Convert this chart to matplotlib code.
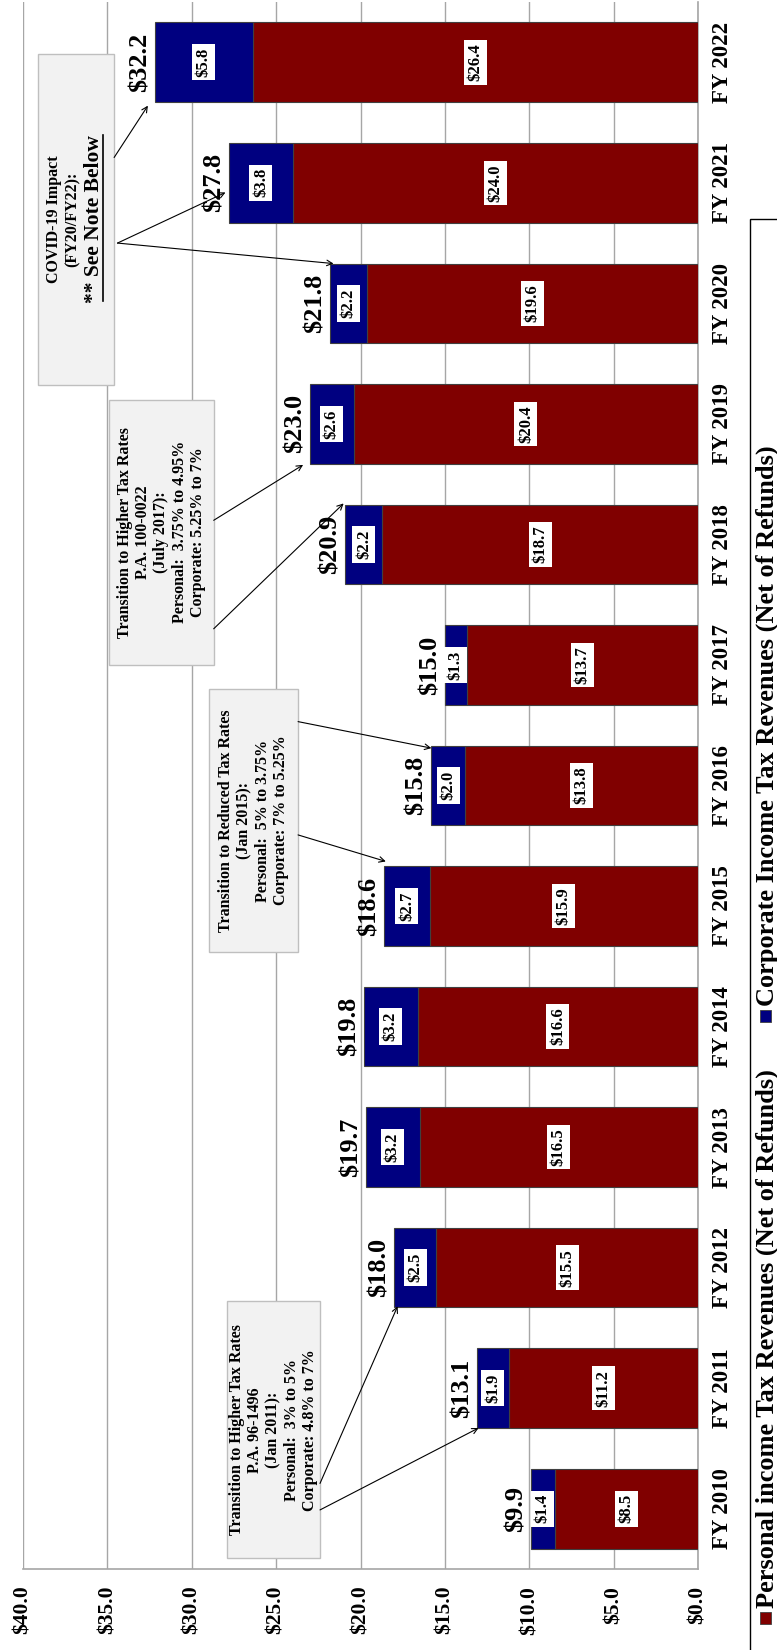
import matplotlib
matplotlib.use("Agg")
import matplotlib.pyplot as plt
from matplotlib.patches import Rectangle

# Datos (miles de millones de $)
anios = ["FY 2010", "FY 2011", "FY 2012", "FY 2013", "FY 2014", "FY 2015", "FY 2016",
         "FY 2017", "FY 2018", "FY 2019", "FY 2020", "FY 2021", "FY 2022"]
personal = [8.5, 11.2, 15.5, 16.5, 16.6, 15.9, 13.8, 13.7, 18.7, 20.4, 19.6, 24.0, 26.4]
corporativo = [1.4, 1.9, 2.5, 3.2, 3.2, 2.7, 2.0, 1.3, 2.2, 2.6, 2.2, 3.8, 5.8]
totales = [9.9, 13.1, 18.0, 19.7, 19.8, 18.6, 15.8, 15.0, 20.9, 23.0, 21.8, 27.8, 32.2]
ticks_valor = [0, 5, 10, 15, 20, 25, 30, 35, 40]
leyenda = ["Personal income Tax Revenues (Net of Refunds)",
           "Corporate Income Tax Revenues (Net of Refunds)"]

ROJO = "#800000"
AZUL = "#000080"
GRIS = "#A6A6A6"

plt.rcParams['font.family'] = ['Liberation Serif', 'DejaVu Serif']
plt.rcParams['font.weight'] = 'bold'

W, H = 777, 1650
fig = plt.figure(figsize=(W / 100, H / 100), dpi=100)
ax = fig.add_axes([23 / W, 81 / H, (698 - 23) / W, (1648 - 81) / H])


def px(x, y):
    # pixel de la figura -> fraccion de figura
    return x / W, 1 - y / H


pos = list(range(len(anios)))
ax.barh(pos, personal, height=0.66, color=ROJO, edgecolor="#404040", lw=0.8, zorder=3)
ax.barh(pos, corporativo, left=personal, height=0.66, color=AZUL, edgecolor="#404040", lw=0.8, zorder=3)

ax.set_xlim(40, 0)
ax.set_ylim(-0.5, len(anios) - 0.5)
ax.set_xticks(ticks_valor)
ax.set_xticklabels([f"${v:.1f}" for v in ticks_valor], rotation=90, fontsize=15.5)
ax.xaxis.grid(True, color=GRIS, lw=1)
ax.set_axisbelow(True)
ax.tick_params(axis='x', length=0, pad=12)

ax.yaxis.tick_right()
ax.set_yticks(pos)
ax.set_yticklabels(anios, rotation=90, va='center', fontsize=16.5)
ax.tick_params(axis='y', length=0, pad=10)

for lado in ["top", "left"]:
    ax.spines[lado].set_visible(False)
for lado in ["bottom", "right"]:
    ax.spines[lado].set_color(GRIS)
    ax.spines[lado].set_linewidth(1.2)

caja_blanca = dict(fc="white", ec="none", pad=2.5)
for i in pos:
    ax.text(personal[i] / 2, i, f"${personal[i]:.1f}", rotation=90, ha='center', va='center',
            fontsize=12, bbox=caja_blanca, zorder=4)
    ax.text(personal[i] + corporativo[i] / 2, i, f"${corporativo[i]:.1f}", rotation=90,
            ha='center', va='center', fontsize=12, bbox=caja_blanca, zorder=4)
    ax.text(totales[i] + 0.2, i, f"${totales[i]:.1f}", rotation=90, ha='right', va='center',
            fontsize=19, zorder=4)

# Cajas de notas: (x1, x2, y1, y2) en datos, texto
notas = [
    ((22.4, 27.9, -0.41, 1.72),
     "Transition to Higher Tax Rates\nP.A. 96-1496\n(Jan 2011):\nPersonal:  3% to 5%\nCorporate: 4.8% to 7%"),
    ((23.7, 29.0, 4.62, 6.80),
     "Transition to Reduced Tax Rates\n(Jan 2015):\nPersonal:  5% to 3.75%\nCorporate: 7% to 5.25%"),
    ((28.7, 34.9, 7.0, 9.2),
     "Transition to Higher Tax Rates\nP.A. 100-0022\n(July 2017):\nPersonal:  3.75% to 4.95%\nCorporate: 5.25% to 7%"),
    ((34.6, 39.1, 9.32, 12.07), None),
]
for (x1, x2, y1, y2), texto in notas:
    ax.add_patch(Rectangle((x1, y1), x2 - x1, y2 - y1, fc="#F2F2F2", ec="#BFBFBF", lw=1, zorder=5))
    if texto:
        ax.text((x1 + x2) / 2, (y1 + y2) / 2, texto, rotation=90, ha='center', va='center',
                multialignment='center', fontsize=11.5, linespacing=1.2, zorder=6)

ax.text(37.6, 10.7, "COVID-19 Impact\n(FY20/FY22):", rotation=90, ha='center', va='center',
        multialignment='center', fontsize=11.5, linespacing=1.2, zorder=6)
t_nota = ax.text(35.8, 10.7, "** See Note Below", rotation=90, ha='center', va='center',
                 fontsize=15.5, zorder=6)

# flechas: (inicio, fin)
flechas = [
    ((34.6, 11.21), (32.6, 11.64)),
    ((34.4, 10.5), (28.0, 10.92)),
    ((34.4, 10.5), (21.6, 10.33)),
    ((28.7, 8.2), (23.4, 8.66)),
    ((28.7, 7.3), (21.0, 8.34)),
    ((23.7, 6.53), (15.8, 6.31)),
    ((23.7, 5.59), (18.5, 5.37)),
    ((22.4, 0.21), (17.8, 1.68)),
    ((22.4, -0.01), (13.0, 0.67)),
]
for ini, fin in flechas:
    ax.annotate("", xy=fin, xytext=ini,
                arrowprops=dict(arrowstyle="->", color="black", lw=0.8, shrinkA=0, shrinkB=0),
                zorder=6)

# subrayado de "See Note Below"
fig.canvas.draw()
bb = t_nota.get_window_extent()
inv = ax.transData.inverted()
(xa, ya), (xb, yb) = inv.transform([(bb.x1 - 1, bb.y0 + 2), (bb.x1 - 1, bb.y1)])
ax.plot([xa, xb], [ya, yb], color="black", lw=1.2, zorder=6)

# Leyenda girada, construida a mano
x0, y0 = px(750, 219)
fig.patches.append(Rectangle((x0, 1 - 1700 / H), 0.1, y0 - (1 - 1700 / H), transform=fig.transFigure,
                             fc="white", ec="black", lw=1, zorder=1))
marcas = [(1612, ROJO), (1010, AZUL)]
for (ym, color), texto in zip(marcas, leyenda):
    mx, my = px(760, ym + 12)
    fig.patches.append(Rectangle((mx, my), 11 / W, 12 / H, transform=fig.transFigure,
                                 fc=color, ec="#404040", lw=0.6, zorder=2))
    tx, ty = px(767, ym - 4)
    fig.text(tx, ty, texto, rotation=90, ha='center', va='bottom', fontsize=19, zorder=3)

fig.savefig("out.png", dpi=100)
